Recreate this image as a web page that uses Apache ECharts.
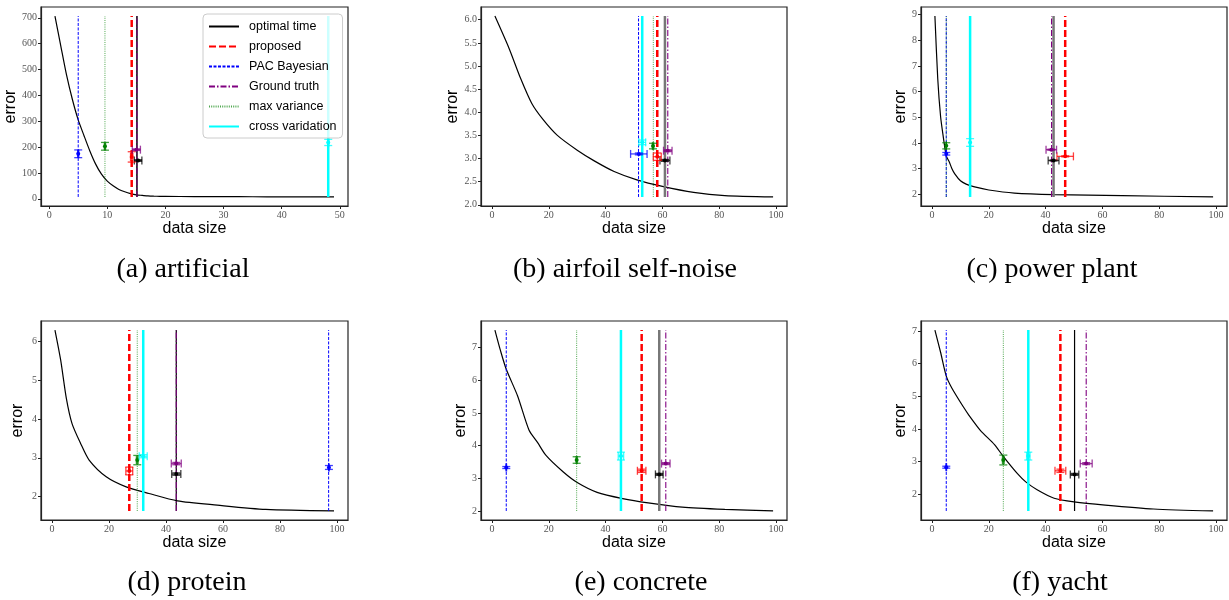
<!DOCTYPE html>
<html>
<head>
<meta charset="utf-8">
<script src="https://cdn.jsdelivr.net/npm/echarts@6/dist/echarts.min.js"></script>
<style>
  html, body { margin: 0; padding: 0; background: #fff; }
  #chart { width: 1229px; height: 600px; }
</style>
</head>
<body>
<div id="chart"></div>
<script>
// order used by every per-plot method array below
const methods = ['optimal time', 'proposed', 'PAC Bayesian', 'Ground truth', 'max variance', 'cross varidation']

// (a) artificial
const artificialSize = [1, 2, 3, 4, 5, 6, 7, 8, 9, 10, 11, 12, 13, 14, 15, 16, 17, 18, 19, 20, 25, 30, 35, 40, 45, 49]
const artificialError = [707, 592, 478, 384, 305, 244, 185, 134, 95, 68, 50, 36, 27, 20, 15, 13, 11, 10, 9.5, 9, 8.5, 8, 7.8, 7.5, 7.2, 7]
const artificialLine = [15.1, 14.2, 5.0, 15.1, 9.6, 48.0]
const artificialPointX = [15.3, 14.2, 5.0, 15.0, 9.6, 48.0]
const artificialPointY = [148, 162, 174, 190, 203, 218]
const artificialXErr = [0.65, 0.2, 0.1, 0.7, 0.1, 0.1]
const artificialYErr = [3, 20, 15, 3, 15, 12]

// (b) airfoil self-noise
const airfoilSize = [1, 6, 10, 14, 18, 23, 30, 36, 43, 51, 60, 71, 82, 99]
const airfoilError = [6.08, 5.38, 4.74, 4.19, 3.84, 3.50, 3.18, 2.95, 2.72, 2.54, 2.40, 2.27, 2.20, 2.17]
const airfoilLine = [60.9, 58.2, 51.6, 61.9, 56.8, 52.9]
const airfoilPointX = [60.9, 58.2, 51.7, 61.9, 56.7, 52.9]
const airfoilPointY = [2.96, 3.04, 3.10, 3.17, 3.27, 3.35]
const airfoilXErr = [1.75, 1.4, 2.9, 1.5, 0.2, 1.2]
const airfoilYErr = [0.02, 0.08, 0.02, 0.02, 0.06, 0.05]

// (c) power plant
const powerSize = [1, 2, 3, 4, 5, 6, 7, 8, 10, 12, 15, 20, 29, 43, 67, 99]
const powerError = [8.94, 6.5, 5.03, 4.2, 3.5, 3.28, 3.0, 2.8, 2.53, 2.4, 2.29, 2.17, 2.05, 1.99, 1.95, 1.90]
const powerLine = [42.8, 46.9, 5.0, 42.1, 5.0, 13.4]
const powerPointX = [42.8, 46.9, 5.0, 42.0, 5.0, 13.4]
const powerPointY = [3.32, 3.48, 3.58, 3.74, 3.89, 4.02]
const powerXErr = [1.9, 2.9, 0.05, 1.85, 0.05, 0.1]
const powerYErr = [0.02, 0.02, 0.05, 0.02, 0.12, 0.15]

// (d) protein
const proteinSize = [1, 3, 5, 7, 10, 13, 19, 26, 34, 44, 58, 75, 99]
const proteinError = [6.29, 5.52, 4.53, 3.88, 3.37, 2.94, 2.51, 2.25, 2.08, 1.89, 1.78, 1.67, 1.63]
const proteinLine = [43.6, 27.1, 97.1, 43.6, 29.9, 32.0]
const proteinPointX = [43.6, 27.1, 97.2, 43.6, 29.9, 32.0]
const proteinPointY = [2.58, 2.66, 2.75, 2.85, 2.94, 3.04]
const proteinXErr = [1.6, 1.2, 0.1, 1.75, 0.3, 1.4]
const proteinYErr = [0.03, 0.1, 0.05, 0.03, 0.12, 0.04]

// (e) concrete
const concreteSize = [1, 3, 5, 9, 13, 16, 19, 25, 30, 37, 46, 55, 67, 82, 99]
const concreteError = [7.54, 6.9, 6.34, 5.52, 4.48, 4.1, 3.7, 3.2, 2.87, 2.57, 2.38, 2.25, 2.12, 2.05, 2.0]
const concreteLine = [58.9, 52.7, 5.0, 61.2, 29.8, 45.4]
const concretePointX = [58.9, 52.7, 5.0, 61.2, 29.8, 45.4]
const concretePointY = [3.12, 3.23, 3.33, 3.45, 3.56, 3.68]
const concreteXErr = [1.35, 1.5, 0.1, 1.5, 0.2, 0.95]
const concreteYErr = [0.03, 0.05, 0.03, 0.03, 0.1, 0.12]

// (f) yacht
const yachtSize = [1, 3, 5, 7, 11, 13, 17, 22, 25, 30, 33, 37, 43, 50, 61, 78, 99]
const yachtError = [7.03, 6.35, 5.62, 5.25, 4.68, 4.42, 3.96, 3.52, 3.17, 2.64, 2.38, 2.14, 1.88, 1.77, 1.67, 1.55, 1.49]
const yachtLine = [50.2, 45.2, 5.0, 54.3, 25.1, 33.9]
const yachtPointX = [50.2, 45.2, 5.0, 54.3, 25.1, 33.9]
const yachtPointY = [2.61, 2.72, 2.83, 2.94, 3.05, 3.17]
const yachtXErr = [1.5, 1.9, 0.1, 2.1, 0.3, 0.6]
const yachtYErr = [0.03, 0.05, 0.03, 0.03, 0.15, 0.12]

// tick labels
const xTicks50 = [0, 10, 20, 30, 40, 50]
const xTicks100 = [0, 20, 40, 60, 80, 100]
const artificialTicks = [0, 100, 200, 300, 400, 500, 600, 700]
const airfoilTicks = [2.0, 2.5, 3.0, 3.5, 4.0, 4.5, 5.0, 5.5, 6.0]
const powerTicks = [2, 3, 4, 5, 6, 7, 8, 9]
const proteinTicks = [2, 3, 4, 5, 6]
const concreteTicks = [2, 3, 4, 5, 6, 7]
const yachtTicks = [2, 3, 4, 5, 6, 7]

const captions = ['(a) artificial', '(b) airfoil self-noise', '(c) power plant', '(d) protein', '(e) concrete', '(f) yacht']

const panels = [
  { size: artificialSize, err: artificialError, line: artificialLine, px: artificialPointX, py: artificialPointY, ex: artificialXErr, ey: artificialYErr, xTicks: xTicks50, yTicks: artificialTicks },
  { size: airfoilSize, err: airfoilError, line: airfoilLine, px: airfoilPointX, py: airfoilPointY, ex: airfoilXErr, ey: airfoilYErr, xTicks: xTicks100, yTicks: airfoilTicks },
  { size: powerSize, err: powerError, line: powerLine, px: powerPointX, py: powerPointY, ex: powerXErr, ey: powerYErr, xTicks: xTicks100, yTicks: powerTicks },
  { size: proteinSize, err: proteinError, line: proteinLine, px: proteinPointX, py: proteinPointY, ex: proteinXErr, ey: proteinYErr, xTicks: xTicks100, yTicks: proteinTicks },
  { size: concreteSize, err: concreteError, line: concreteLine, px: concretePointX, py: concretePointY, ex: concreteXErr, ey: concreteYErr, xTicks: xTicks100, yTicks: concreteTicks },
  { size: yachtSize, err: yachtError, line: yachtLine, px: yachtPointX, py: yachtPointY, ex: yachtXErr, ey: yachtYErr, xTicks: xTicks100, yTicks: yachtTicks }
]

// layout
const gridPos = [
  { left: 41, top: 7, width: 307, height: 199 },
  { left: 481, top: 7, width: 306, height: 199 },
  { left: 921, top: 7, width: 306, height: 199 },
  { left: 41, top: 321, width: 307, height: 199 },
  { left: 481, top: 321, width: 306, height: 199 },
  { left: 921, top: 321, width: 306, height: 199 }
]
const yNameGap = [17, 17, 11, 15, 11, 11]
const captionPos = [[183, 270], [625, 270], [1052, 270], [187, 583], [641, 583], [1060, 583]]

const methodColors = ['#000000', '#ff0000', '#0000ff', '#800080', '#008000', '#00ffff']
const methodLine = [
  { color: '#000', width: 1, type: 'solid' },
  { color: '#ff0000', width: 2.5, type: [7, 3] },
  { color: '#0000ff', width: 1, type: [3, 1.5] },
  { color: '#800080', width: 1.1, type: [6, 2, 1.5, 2] },
  { color: '#008000', width: 1, type: [1, 1.2], opacity: 0.7 },
  { color: '#00ffff', width: 2.5, type: 'solid' }
]
// the optimal-time vertical line looks different in each subplot
const optimalVLine = [
  { color: '#000', width: 1.5 },
  { color: '#777', width: 2.5 },
  { color: '#777', width: 2.5 },
  { color: '#000', width: 1.2 },
  { color: '#777', width: 2.5 },
  { color: '#000', width: 1.2 }
]

function pad(lo, hi) {
  let d = (hi - lo) * 0.05
  return [lo - d, hi + d]
}

function renderErrorBar(params, api) {
  let x = api.value(0), y = api.value(1), ex = api.value(2), ey = api.value(3)
  let col = methodColors[api.value(4)]
  let c = api.coord([x, y])
  let l = api.coord([x - ex, y])
  let r = api.coord([x + ex, y])
  let t = api.coord([x, y + ey])
  let b = api.coord([x, y - ey])
  let cap = 4
  let bar = { stroke: col, lineWidth: 1.3, opacity: 0.75 }
  let seg = function (x1, y1, x2, y2) {
    return { type: 'line', shape: { x1: x1, y1: y1, x2: x2, y2: y2 }, style: bar }
  }
  return {
    type: 'group',
    children: [
      seg(l[0], c[1], r[0], c[1]),
      seg(l[0], c[1] - cap, l[0], c[1] + cap),
      seg(r[0], c[1] - cap, r[0], c[1] + cap),
      seg(c[0], t[1], c[0], b[1]),
      seg(c[0] - cap, t[1], c[0] + cap, t[1]),
      seg(c[0] - cap, b[1], c[0] + cap, b[1]),
      { type: 'circle', shape: { cx: c[0], cy: c[1], r: 2 }, style: { fill: col } }
    ]
  }
}

let grids = [], xAxes = [], yAxes = [], series = []

panels.forEach(function (p, i) {
  let yMin = Math.min.apply(null, p.err)
  let yMax = Math.max.apply(null, p.err)
  let xr = pad(Math.min.apply(null, p.size), Math.max.apply(null, p.size))
  let yr = pad(yMin, yMax)
  let oneDecimal = i === 1

  grids.push(Object.assign({ show: true, borderColor: '#222', borderWidth: 1.2, backgroundColor: 'transparent' }, gridPos[i]))

  xAxes.push({
    gridIndex: i, type: 'value', min: xr[0], max: xr[1],
    axisLine: { show: true, onZero: false, lineStyle: { color: '#222', width: 1.2 } },
    splitLine: { show: false },
    axisTick: { show: true, length: 3, customValues: p.xTicks, lineStyle: { color: '#222' } },
    axisLabel: { customValues: p.xTicks, margin: 4, fontFamily: 'Liberation Serif', fontSize: 10, color: '#555' },
    name: 'data size', nameLocation: 'middle', nameGap: 15,
    nameTextStyle: { fontFamily: 'Liberation Sans', fontSize: 16, color: '#000' }
  })

  yAxes.push({
    gridIndex: i, type: 'value', min: yr[0], max: yr[1],
    axisLine: { show: true, onZero: false, lineStyle: { color: '#222', width: 1.2 } },
    splitLine: { show: false },
    axisTick: { show: true, length: 3, customValues: p.yTicks, lineStyle: { color: '#222' } },
    axisLabel: {
      customValues: p.yTicks, margin: 4, fontFamily: 'Liberation Serif', fontSize: 10, color: '#555',
      formatter: function (v) { return oneDecimal ? v.toFixed(1) : String(v) }
    },
    name: 'error', nameLocation: 'middle', nameGap: yNameGap[i],
    nameTextStyle: { fontFamily: 'Liberation Sans', fontSize: 16, color: '#000' }
  })

  // optimal time curve
  series.push({
    name: methods[0], type: 'line', xAxisIndex: i, yAxisIndex: i,
    data: p.size.map(function (s, k) { return [s, p.err[k]] }),
    symbol: 'none', symbolSize: 0, smooth: 0.25,
    lineStyle: { color: '#000', width: 1.2 }, itemStyle: { color: '#000' },
    silent: true, z: 2
  })

  // vertical lines for the chosen data size of each method
  methods.forEach(function (m, k) {
    let ls = k === 0 ? Object.assign({}, methodLine[0], optimalVLine[i]) : methodLine[k]
    series.push({
      name: m, type: 'line', xAxisIndex: i, yAxisIndex: i,
      data: [[p.line[k], yMin], [p.line[k], yMax]],
      symbol: 'none', symbolSize: 0, lineStyle: ls, itemStyle: { color: ls.color },
      silent: true, z: 3
    })
  })

  // mean point with error bars
  series.push({
    type: 'custom', xAxisIndex: i, yAxisIndex: i,
    renderItem: renderErrorBar,
    encode: { x: 0, y: 1 },
    data: methods.map(function (m, k) { return [p.px[k], p.py[k], p.ex[k], p.ey[k], k] }),
    silent: true, z: 5
  })
})

let chart = echarts.init(document.getElementById('chart'))
chart.setOption({
  animation: false,
  backgroundColor: '#fff',
  grid: grids,
  xAxis: xAxes,
  yAxis: yAxes,
  legend: {
    data: methods, orient: 'vertical', left: 203, top: 14,
    itemWidth: 30, itemHeight: 12, itemGap: 7,
    padding: [6, 6, 5, 5],
    itemStyle: { opacity: 0 },
    backgroundColor: 'rgba(255,255,255,0.8)', borderColor: '#ccc', borderWidth: 1, borderRadius: 4,
    textStyle: { fontFamily: 'Liberation Sans', fontSize: 12.5, color: '#000', padding: [0, 0, 0, 5] },
    selectedMode: false, z: 10
  },
  graphic: captions.map(function (c, i) {
    return {
      type: 'text', x: captionPos[i][0], y: captionPos[i][1],
      style: { text: c, font: '28px "Liberation Serif"', fill: '#000', align: 'center', verticalAlign: 'middle', textAlign: 'center', textVerticalAlign: 'middle' }
    }
  }),
  series: series
})
</script>
</body>
</html>
